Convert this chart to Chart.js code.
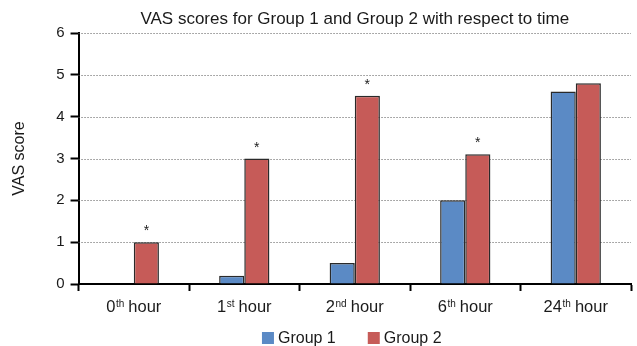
<!DOCTYPE html>
<html>
<head>
<meta charset="utf-8">
<script src="https://cdn.jsdelivr.net/npm/chart.js@4.4.0/dist/chart.umd.min.js"></script>
<style>
  html, body { margin: 0; padding: 0; background: #fff; }
  #wrap { width: 637px; height: 346px; position: relative; }
</style>
</head>
<body>
<div id="wrap"><canvas id="grafica"></canvas></div>
<script>
// datos
let titulo = 'VAS scores for Group 1 and Group 2 with respect to time';
let horas = ['0', '1', '2', '6', '24'];
let sufijos = ['th', 'st', 'nd', 'th', 'th'];
let grupo1 = [0, 0.2, 0.5, 2, 4.6];
let grupo2 = [1, 3, 4.5, 3.1, 4.8];
let significativo = [true, true, true, true, false];
let ticksY = [0, 1, 2, 3, 4, 5, 6];

const fuente = "'Liberation Sans', Arial, Helvetica, sans-serif";
const colorTexto = '#1a1a1a';

// lineas punteadas de la rejilla (debajo de las barras)
const rejilla = {
  id: 'rejilla',
  beforeDatasetsDraw(chart) {
    let ctx = chart.ctx;
    let y = chart.scales.y;
    let area = chart.chartArea;
    ctx.save();
    ctx.strokeStyle = '#555';
    ctx.lineWidth = 1;
    ctx.setLineDash([1, 2]);
    ticksY.forEach(v => {
      if (v === 0) return;
      let py = Math.round(y.getPixelForValue(v)) + 0.5;
      ctx.beginPath();
      ctx.moveTo(area.left, py);
      ctx.lineTo(area.right, py);
      ctx.stroke();
    });
    ctx.restore();
  }
};

// titulo, etiquetas del eje x con superindice, asteriscos y leyenda
const extras = {
  id: 'extras',
  afterDraw(chart) {
    let ctx = chart.ctx;
    let x = chart.scales.x;
    let area = chart.chartArea;
    let centro = (area.left + area.right) / 2;
    ctx.save();
    ctx.fillStyle = colorTexto;
    ctx.textBaseline = 'alphabetic';

    ctx.font = '17px ' + fuente;
    ctx.textAlign = 'center';
    ctx.fillText(titulo, centro, 24);

    ctx.textAlign = 'left';
    let base = area.bottom + 28;
    for (let i = 0; i < horas.length; i++) {
      ctx.font = '16.5px ' + fuente;
      let w1 = ctx.measureText(horas[i]).width;
      let w3 = ctx.measureText(' hour').width;
      ctx.font = '10px ' + fuente;
      let w2 = ctx.measureText(sufijos[i]).width;
      let cx = x.getPixelForValue(i);
      let left = cx - (w1 + w2 + w3) / 2;
      ctx.font = '16.5px ' + fuente;
      ctx.fillText(horas[i], left, base);
      ctx.font = '10px ' + fuente;
      ctx.fillText(sufijos[i], left + w1 + 0.5, base - 5);
      ctx.font = '16.5px ' + fuente;
      ctx.fillText(' hour', left + w1 + w2, base);
    }

    // asteriscos sobre grupo 2
    let meta = chart.getDatasetMeta(1);
    ctx.font = '14px ' + fuente;
    ctx.textAlign = 'center';
    meta.data.forEach((bar, i) => {
      if (significativo[i]) ctx.fillText('*', bar.x, bar.y - 7);
    });

    // leyenda
    ctx.font = '16px ' + fuente;
    ctx.textAlign = 'left';
    let items = chart.data.datasets.map(ds => ({
      texto: ds.label,
      color: ds.backgroundColor,
      ancho: 12 + 4 + ctx.measureText(ds.label).width
    }));
    let hueco = 32;
    let total = items.reduce((s, it) => s + it.ancho, 0) + hueco * (items.length - 1);
    let lx = centro - 3 - total / 2;
    let ly = 343;
    items.forEach(it => {
      ctx.fillStyle = it.color;
      ctx.fillRect(lx, ly - 11, 12, 12);
      ctx.fillStyle = colorTexto;
      ctx.fillText(it.texto, lx + 16, ly);
      lx += it.ancho + hueco;
    });
    ctx.restore();
  }
};

new Chart(document.getElementById('grafica'), {
  type: 'bar',
  data: {
    labels: horas.map((h, i) => h + sufijos[i] + ' hour'),
    datasets: [{
      label: 'Group 1',
      data: grupo1,
      backgroundColor: '#5B8AC5',
      borderColor: '#2a2a2a',
      borderWidth: 1.5,
      borderSkipped: 'bottom',
      categoryPercentage: 0.455,
      barPercentage: 1
    }, {
      label: 'Group 2',
      data: grupo2,
      backgroundColor: '#C65B58',
      borderColor: '#2a2a2a',
      borderWidth: 1.5,
      borderSkipped: 'bottom',
      categoryPercentage: 0.455,
      barPercentage: 1
    }]
  },
  options: {
    responsive: true,
    maintainAspectRatio: false,
    animation: false,
    layout: { padding: { left: 6, right: 6, top: 33, bottom: 55 } },
    plugins: {
      title: { display: false },
      legend: { display: false },
      tooltip: { enabled: false }
    },
    scales: {
      x: {
        offset: true,
        grid: {
          offset: true,
          drawOnChartArea: false,
          drawTicks: true,
          tickLength: 7,
          tickColor: '#000',
          tickWidth: 2
        },
        border: { color: '#000', width: 2 },
        ticks: { display: false }
      },
      y: {
        min: 0,
        max: 6,
        afterBuildTicks(axis) { axis.ticks = ticksY.map(v => ({ value: v })); },
        grid: {
          drawOnChartArea: false,
          drawTicks: true,
          tickLength: 8,
          tickColor: '#000',
          tickWidth: 2
        },
        border: { color: '#000', width: 2 },
        ticks: {
          color: colorTexto,
          font: { family: fuente, size: 15 },
          padding: 6
        },
        title: {
          display: true,
          text: 'VAS score',
          color: colorTexto,
          font: { family: fuente, size: 16 },
          padding: { top: 4, bottom: 21 }
        }
      }
    }
  },
  plugins: [rejilla, extras]
});
</script>
</body>
</html>
